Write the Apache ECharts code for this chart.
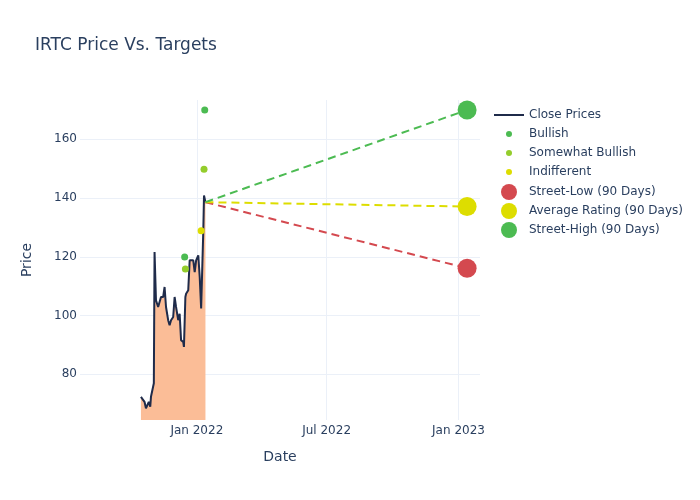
<!DOCTYPE html>
<html>
<head>
<meta charset="utf-8">
<script src="https://cdn.jsdelivr.net/npm/echarts@6/dist/echarts.min.js"></script>
<style>html,body{margin:0;padding:0;background:#fff}#chart{width:700px;height:500px}</style>
</head>
<body>
<div id="chart"></div>
<script>
// ---- data ----
const closeDates = ['2021-10-15','2021-10-20','2021-10-22','2021-10-26','2021-10-28','2021-10-29','2021-11-02','2021-11-03','2021-11-05','2021-11-08',
  '2021-11-10','2021-11-12','2021-11-15','2021-11-17','2021-11-19','2021-11-22','2021-11-24','2021-11-26','2021-11-29','2021-12-01',
  '2021-12-03','2021-12-06','2021-12-08','2021-12-10','2021-12-13','2021-12-14','2021-12-16','2021-12-17','2021-12-20','2021-12-22',
  '2021-12-23','2021-12-27','2021-12-29','2021-12-31','2022-01-03','2022-01-05','2022-01-07','2022-01-10','2022-01-11','2022-01-13'];
const closePrices = [72.3,70.6,68.4,70.6,68.9,72.3,76.9,121.6,105.2,102.9,
  102.4,106.3,106.3,109.7,102.9,98.4,96.7,98.4,99.5,106.3,
  102.9,98.4,100.6,91.6,91.0,89.3,106.3,107.4,108.6,118.8,
  118.8,118.8,114.8,118.8,120.5,113.1,102.4,129.0,140.9,138.6];

const bullishDates = ['2021-12-15','2022-01-12'];
const bullishValues = [119.9,170];
const somewhatBullishDates = ['2021-12-16','2022-01-11'];
const somewhatBullishValues = [115.8,149.8];
const indifferentDates = ['2022-01-07'];
const indifferentValues = [128.9];

const targetDate = '2023-01-13';
const streetLow = 116.1;
const averageRating = 137.1;
const streetHigh = 170;

const yTicks = [80,100,120,140,160];
const xTicks = ['2022-01-01','2022-07-01','2023-01-01'];
const xRange = ['2021-07-22','2023-01-31'];
const monthNames = ['Jan','Feb','Mar','Apr','May','Jun','Jul','Aug','Sep','Oct','Nov','Dec'];

// ---- colours ----
const cNavy = '#1f2b4a';
const cFill = '#fbbd97';
const cGreen = '#4cbb52';
const cYG = '#94cd2c';
const cYellow = '#dddd00';
const cRed = '#d4494f';
const txt = '#2a3f5f';
const grid = '#ebf0f8';
const font = 'DejaVu Sans';

const ts = d => Date.parse(d + 'T00:00:00Z');
const lastDate = closeDates[closeDates.length - 1];
const lastPrice = closePrices[closePrices.length - 1];

const chart = echarts.init(document.getElementById('chart'), null, {renderer: 'canvas'});

// legend row: centre y, icon centred at x=509, text starting at x=529
function lineLegend(name, cy) {
  return {
    orient: 'vertical', left: 494, top: cy - 7, padding: 0,
    itemWidth: 30, itemHeight: 2, icon: 'rect',
    data: [name], selectedMode: false,
    textStyle: {color: txt, fontSize: 12, fontFamily: font}
  };
}
function dotLegend(name, cy, size) {
  const boxH = Math.max(size, 14);
  return {
    orient: 'vertical', left: 509 - size / 2, top: cy - boxH / 2, padding: 0,
    itemWidth: size, itemHeight: size, icon: 'circle', symbolKeepAspect: false,
    data: [name], selectedMode: false,
    textStyle: {color: txt, fontSize: 12, fontFamily: font,
      padding: [0, 0, 0, 529 - (509 + size / 2) - 5]}
  };
}

chart.setOption({
  animation: false,
  backgroundColor: '#fff',
  title: {
    text: 'IRTC Price Vs. Targets', left: 35, top: 37, padding: 0,
    textStyle: {color: txt, fontSize: 17, fontWeight: 'normal', fontFamily: font}
  },
  grid: {left: 80, right: 220, top: 100, bottom: 80, containLabel: false},
  legend: [
    lineLegend('Close Prices', 116),
    dotLegend('Bullish', 135, 6),
    dotLegend('Somewhat Bullish', 154, 6),
    dotLegend('Indifferent', 173, 6),
    dotLegend('Street-Low (90 Days)', 192, 16),
    dotLegend('Average Rating (90 Days)', 211, 16),
    dotLegend('Street-High (90 Days)', 230, 16)
  ],
  xAxis: {
    type: 'value',
    min: ts(xRange[0]), max: ts(xRange[1]),
    name: 'Date', nameLocation: 'middle', nameGap: 30,
    nameTextStyle: {color: txt, fontSize: 14, fontFamily: font},
    axisLine: {show: false},
    axisTick: {show: false, customValues: xTicks.map(ts)},
    axisLabel: {
      color: txt, fontSize: 12, fontFamily: font, margin: 5,
      customValues: xTicks.map(ts),
      formatter: function (v) { const d = new Date(v); return monthNames[d.getUTCMonth()] + ' ' + d.getUTCFullYear(); }
    },
    splitLine: {show: true, lineStyle: {color: grid, width: 1}}
  },
  yAxis: {
    type: 'value', min: 64.4, max: 173.4,
    name: 'Price', nameLocation: 'middle', nameGap: 46,
    nameTextStyle: {color: txt, fontSize: 14, fontFamily: font},
    axisLine: {show: false},
    axisTick: {show: false, customValues: yTicks},
    axisLabel: {color: txt, fontSize: 12, fontFamily: font, margin: 3, customValues: yTicks},
    splitLine: {show: true, lineStyle: {color: grid, width: 1}}
  },
  series: [
    {
      name: 'Close Prices', type: 'line', symbol: 'none',
      data: closeDates.map((d, i) => [ts(d), closePrices[i]]),
      lineStyle: {color: cNavy, width: 2}, itemStyle: {color: cNavy},
      areaStyle: {color: cFill, opacity: 1}, z: 2
    },
    {
      name: 'Bullish', type: 'scatter', symbolSize: 7,
      data: bullishDates.map((d, i) => [ts(d), bullishValues[i]]),
      itemStyle: {color: cGreen, opacity: 1}, z: 4
    },
    {
      name: 'Somewhat Bullish', type: 'scatter', symbolSize: 7,
      data: somewhatBullishDates.map((d, i) => [ts(d), somewhatBullishValues[i]]),
      itemStyle: {color: cYG, opacity: 1}, z: 4
    },
    {
      name: 'Indifferent', type: 'scatter', symbolSize: 7,
      data: indifferentDates.map((d, i) => [ts(d), indifferentValues[i]]),
      itemStyle: {color: cYellow, opacity: 1}, z: 4
    },
    {
      name: 'lowLine', type: 'line', symbol: 'none',
      data: [[ts(lastDate), lastPrice], [ts(targetDate), streetLow]],
      lineStyle: {color: cRed, width: 2, type: [8, 5]}, z: 3
    },
    {
      name: 'avgLine', type: 'line', symbol: 'none',
      data: [[ts(lastDate), lastPrice], [ts(targetDate), averageRating]],
      lineStyle: {color: cYellow, width: 2, type: [8, 5]}, z: 3
    },
    {
      name: 'highLine', type: 'line', symbol: 'none',
      data: [[ts(lastDate), lastPrice], [ts(targetDate), streetHigh]],
      lineStyle: {color: cGreen, width: 2, type: [8, 5]}, z: 3
    },
    {
      name: 'Street-Low (90 Days)', type: 'scatter', symbolSize: 19,
      data: [[ts(targetDate), streetLow]], itemStyle: {color: cRed, opacity: 1}, z: 5
    },
    {
      name: 'Average Rating (90 Days)', type: 'scatter', symbolSize: 19,
      data: [[ts(targetDate), averageRating]], itemStyle: {color: cYellow, opacity: 1}, z: 5
    },
    {
      name: 'Street-High (90 Days)', type: 'scatter', symbolSize: 19,
      data: [[ts(targetDate), streetHigh]], itemStyle: {color: cGreen, opacity: 1}, z: 5
    }
  ]
});
</script>
</body>
</html>
